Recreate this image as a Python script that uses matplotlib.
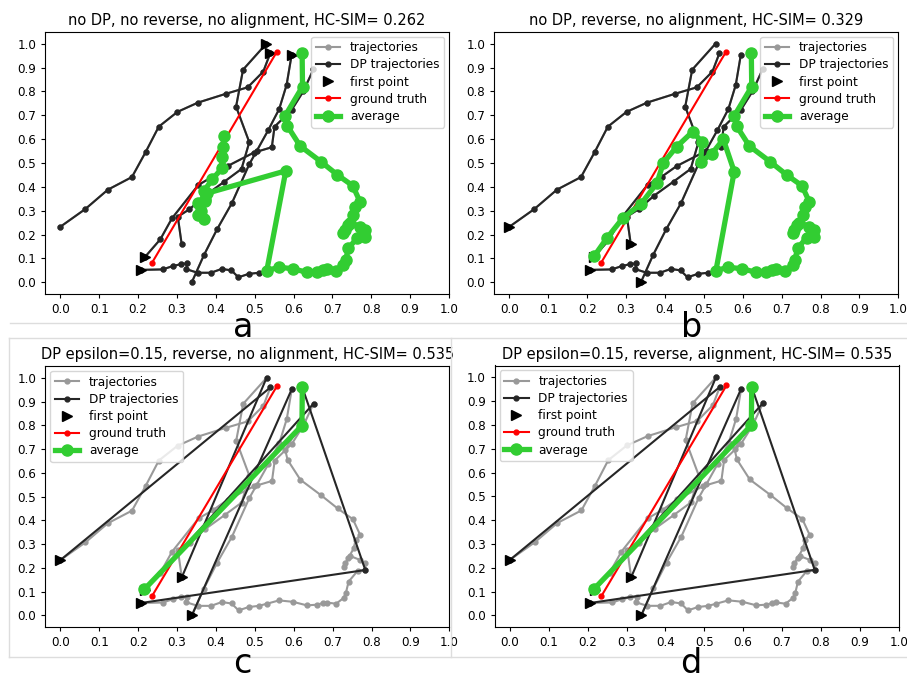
import numpy as np
import matplotlib
matplotlib.use('Agg')
import matplotlib.pyplot as plt
from matplotlib.lines import Line2D

# raw trajectories, in the order they were recorded (x, y)
traj1 = [(0.540, 0.960), (0.522, 0.883), (0.482, 0.817), (0.426, 0.790), (0.354, 0.753),
         (0.301, 0.714), (0.253, 0.652), (0.219, 0.545), (0.184, 0.441), (0.122, 0.388),
         (0.064, 0.307), (0.000, 0.233)]
traj2 = [(0.530, 1.000), (0.470, 0.891), (0.452, 0.736), (0.486, 0.587), (0.466, 0.475),
         (0.422, 0.422), (0.372, 0.363), (0.332, 0.306), (0.302, 0.275), (0.312, 0.160)]
traj3 = [(0.595, 0.953), (0.582, 0.827), (0.563, 0.726), (0.535, 0.638), (0.505, 0.550),
         (0.486, 0.495), (0.441, 0.331), (0.403, 0.222), (0.369, 0.113), (0.338, 0.000)]
traj4 = [(0.218, 0.107), (0.257, 0.180), (0.287, 0.268), (0.355, 0.408), (0.392, 0.443),
         (0.430, 0.487), (0.497, 0.543), (0.544, 0.566), (0.551, 0.652), (0.595, 0.722),
         (0.625, 0.800), (0.651, 0.892)]
traj5 = [(0.207, 0.052), (0.263, 0.054), (0.289, 0.068), (0.310, 0.076), (0.326, 0.079),
         (0.324, 0.055), (0.353, 0.040), (0.387, 0.040), (0.415, 0.056), (0.440, 0.050),
         (0.458, 0.021), (0.484, 0.035), (0.510, 0.040), (0.531, 0.049), (0.562, 0.063),
         (0.598, 0.057), (0.634, 0.042), (0.660, 0.045), (0.675, 0.052), (0.685, 0.054),
         (0.709, 0.049), (0.728, 0.073), (0.734, 0.094), (0.741, 0.142), (0.764, 0.187),
         (0.784, 0.191), (0.784, 0.219), (0.771, 0.233), (0.745, 0.250), (0.732, 0.219),
         (0.728, 0.205), (0.740, 0.240), (0.754, 0.282), (0.759, 0.317), (0.771, 0.338),
         (0.752, 0.405), (0.713, 0.450), (0.670, 0.506), (0.617, 0.571), (0.584, 0.655),
         (0.578, 0.697), (0.623, 0.820), (0.622, 0.960)]

# trajectories after douglas-peucker (eps=0.15), already reversed
dp1 = [(0.000, 0.233), (0.540, 0.960)]
dp2 = [(0.312, 0.160), (0.530, 1.000)]
dp3 = [(0.338, 0.000), (0.595, 0.953)]
dp4 = [(0.218, 0.107), (0.651, 0.892)]
dp5 = [(0.207, 0.052), (0.784, 0.191), (0.622, 0.960)]

ground_truth = [(0.235, 0.080), (0.557, 0.966)]

# averages
avg_a = [(0.421, 0.613), (0.418, 0.568), (0.415, 0.524), (0.417, 0.480), (0.391, 0.432),
         (0.370, 0.384), (0.372, 0.350), (0.355, 0.331), (0.354, 0.282), (0.370, 0.264),
         (0.362, 0.300), (0.372, 0.340), (0.377, 0.373), (0.580, 0.467)] + traj5[13:]
avg_b = [(0.218, 0.110), (0.250, 0.184), (0.291, 0.268), (0.338, 0.328), (0.379, 0.415),
         (0.396, 0.501), (0.430, 0.568), (0.471, 0.631), (0.495, 0.589), (0.492, 0.505),
         (0.520, 0.538), (0.550, 0.599), (0.578, 0.464)] + traj5[13:]
avg_dp = [(0.216, 0.110), (0.621, 0.799), (0.622, 0.960)]

raw_fwd = [traj1, traj2, traj3, traj4, traj5]
raw_rev = [traj1[::-1], traj2[::-1], traj3[::-1], traj4, traj5]
dps = [dp1, dp2, dp3, dp4, dp5]

panels = [
    ('no DP, no reverse, no alignment, HC-SIM= 0.262', raw_fwd, raw_fwd, avg_a, 'upper right'),
    ('no DP, reverse, no alignment, HC-SIM= 0.329', raw_rev, raw_rev, avg_b, 'upper right'),
    ('DP epsilon=0.15, reverse, no alignment, HC-SIM= 0.535', raw_rev, dps, avg_dp, 'upper left'),
    ('DP epsilon=0.15, reverse, alignment, HC-SIM= 0.535', raw_rev, dps, avg_dp, 'upper left'),
]
letters = ['a', 'b', 'c', 'd']

W, H = 907, 675
fig = plt.figure(figsize=(W / 100, H / 100), dpi=100)

# axes boxes in pixels: left, top, right, bottom
boxes = [(45.3, 31.7, 449.0, 294.0), (494.3, 31.7, 898.3, 294.0),
         (45.3, 366.0, 449.3, 627.0), (494.7, 365.5, 898.7, 627.0)]


def px(x0, y0, x1, y1):
    return [x0 / W, 1 - y1 / H, (x1 - x0) / W, (y1 - y0) / H]


# faint page lines between the pictures
for (x0, y0, x1, y1) in [(10, 323, 907, 323), (9, 338, 907, 338), (9, 657, 907, 657),
                         (9, 338, 9, 657), (451, 338, 451, 657)]:
    fig.add_artist(Line2D([x0 / W, x1 / W], [1 - y0 / H, 1 - y1 / H], color='#dddddd', lw=1))

for (title, raw, dp, avg, loc), box in zip(panels, boxes):
    ax = fig.add_axes(px(*box))
    for i, t in enumerate(raw):
        t = np.array(t)
        ax.plot(t[:, 0], t[:, 1], '-o', color='#999999', lw=1.5, ms=3.5,
                label='trajectories' if i == 0 else None)
    for i, t in enumerate(dp):
        t = np.array(t)
        ax.plot(t[:, 0], t[:, 1], '-o', color='#262626', lw=1.5, ms=3.5,
                label='DP trajectories' if i == 0 else None)
    for i, t in enumerate(dp):
        ax.plot(t[0][0], t[0][1], '>', color='black', ms=7,
                label='first point' if i == 0 else None)
    g = np.array(ground_truth)
    ax.plot(g[:, 0], g[:, 1], '-o', color='red', lw=1.5, ms=3.5, label='ground truth')
    a = np.array(avg)
    ax.plot(a[:, 0], a[:, 1], '-o', color='#32cd32', lw=3.8, ms=8, label='average')

    ax.set_xticks(np.arange(0, 1.01, 0.1))
    ax.set_yticks(np.arange(0, 1.01, 0.1))
    ax.set_xlim(-0.039, 1.0)
    ax.set_ylim(-0.049, 1.05)
    ax.tick_params(labelsize=8.6, length=3, width=0.8)
    ax.set_title(title, fontsize=10.5, pad=5)
    ax.legend(loc=loc, fontsize=8.7, borderaxespad=0.4, labelspacing=0.34)

# panel letters
for s, (x, y) in zip(letters, [(243, 337), (692, 337), (242, 673), (691, 673)]):
    fig.text(x / W, 1 - y / H, s, fontsize=24, ha='center', va='baseline')

fig.savefig('out.png', dpi=100)
